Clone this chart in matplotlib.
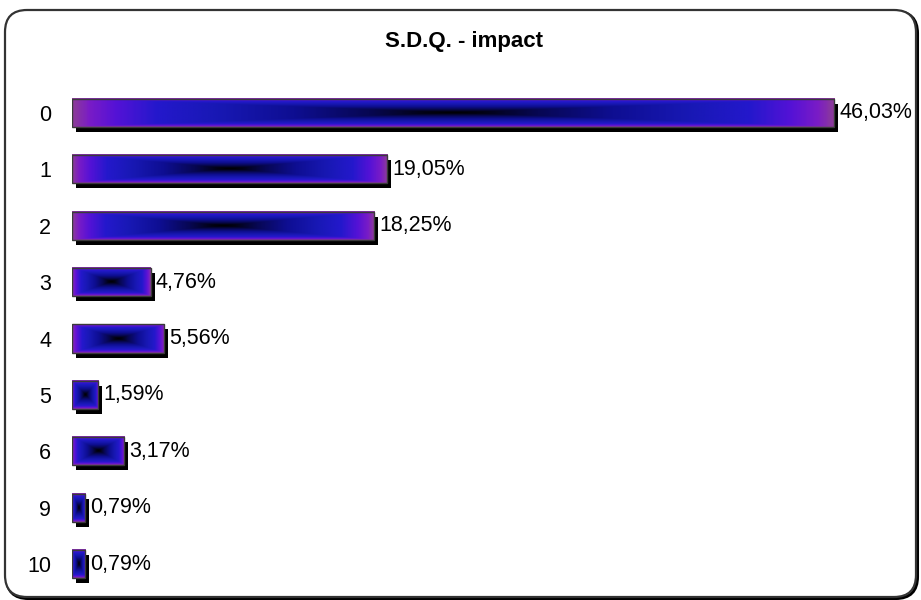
import numpy as np
import matplotlib
matplotlib.use("Agg")
import matplotlib.pyplot as plt
from matplotlib.colors import LinearSegmentedColormap
from matplotlib.patches import FancyBboxPatch
import matplotlib.transforms as mtrans

categories = ['0', '1', '2', '3', '4', '5', '6', '9', '10']
values = [46.03, 19.05, 18.25, 4.76, 5.56, 1.59, 3.17, 0.79, 0.79]
labels = ['46,03%', '19,05%', '18,25%', '4,76%', '5,56%', '1,59%', '3,17%', '0,79%', '0,79%']
title = 'S.D.Q. - impact'

plt.rcParams['font.family'] = ['Liberation Sans', 'DejaVu Sans']

W, H = 921, 600
fig = plt.figure(figsize=(W / 100, H / 100), dpi=100)

# rounded frame (pixel coordinates)
ident = mtrans.IdentityTransform()
shadow_box = FancyBboxPatch((6.5, 1.5), 911, 587, boxstyle="round,pad=0,rounding_size=22",
                            transform=ident, facecolor='none', edgecolor='black', linewidth=2.2,
                            figure=fig, zorder=-10)
frame = FancyBboxPatch((5, 3), 911, 587, boxstyle="round,pad=0,rounding_size=22",
                       transform=ident, facecolor='white', edgecolor='#333333', linewidth=1.6,
                       figure=fig, zorder=-9)
fig.patches.extend([shadow_box, frame])

ax_left, ax_right = 72, 900
ax_top, ax_bottom = 84.8, 592.2
ax = fig.add_axes([ax_left / W, 1 - ax_bottom / H, (ax_right - ax_left) / W, (ax_bottom - ax_top) / H])
ax.patch.set_visible(False)
ax.set_zorder(1)

xmax = 50.0
ypos = np.arange(len(categories))

bh = 0.5
cmap = LinearSegmentedColormap.from_list('grad', [
    (0.0, '#000000'),
    (0.08, '#020216'),
    (0.22, '#070752'),
    (0.42, '#0e0e92'),
    (0.62, '#1818b4'),
    (0.78, '#2418cc'),
    (0.89, '#5512d6'),
    (0.96, '#7a1cc6'),
    (1.0, '#8c3c98'),
])

# shadows
shadow_tr = ax.transData + mtrans.ScaledTranslation(4 / 100, -5 / 100, fig.dpi_scale_trans)
ax.barh(ypos, values, height=bh, left=0, color='black', transform=shadow_tr, zorder=1)

# gradient fill
u = np.linspace(-1, 1, 400)
v = np.linspace(-1, 1, 60)
U, V = np.meshgrid(u, v)
T = np.maximum(np.abs(U), np.abs(V))
for y, val in zip(ypos, values):
    ax.imshow(T, cmap=cmap, vmin=0, vmax=1, extent=(0, val, y + bh / 2, y - bh / 2),
              aspect='auto', interpolation='bilinear', zorder=2)

# outlines
ax.barh(ypos, values, height=bh, left=0, facecolor='none', edgecolor='#3a3a3a',
        linewidth=1.0, zorder=3)

ax.set_xlim(0, xmax)
ax.set_ylim(len(categories) - 0.5, -0.5)

for y, val, lab in zip(ypos, values, labels):
    ax.annotate(lab, (val, y), xytext=(3.5, 0), textcoords='offset points',
                ha='left', va='center', fontsize=15.5, color='black', zorder=4)

ax.set_yticks(ypos)
ax.set_yticklabels(categories, fontsize=15.5)
ax.tick_params(axis='y', length=0, pad=15)
ax.set_xticks([])
for s in ax.spines.values():
    s.set_visible(False)

fig.text(464 / W, 1 - 41 / H, title, ha='center', va='center', fontsize=16, fontweight='bold')

fig.savefig('out.png', dpi=100)
